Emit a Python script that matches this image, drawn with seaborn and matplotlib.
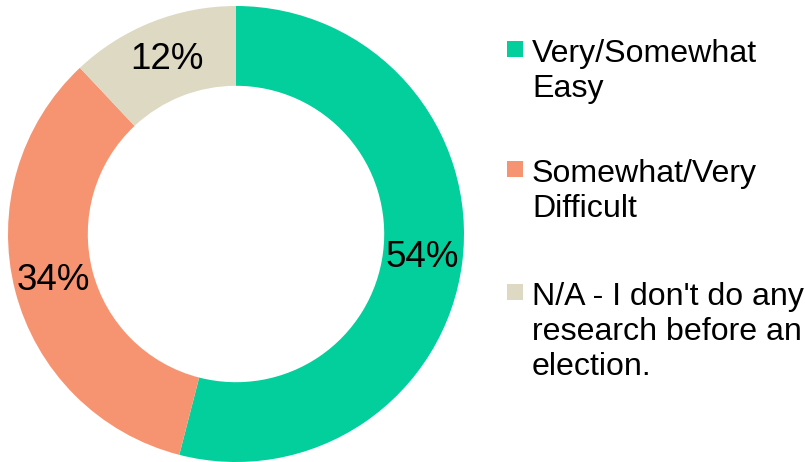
import matplotlib
matplotlib.use("Agg")
import matplotlib.pyplot as plt
from matplotlib.patches import Rectangle
import numpy as np
import seaborn as sns

# Survey responses: how easy is it to research before an election
categories = ["Very/Somewhat\nEasy", "Somewhat/Very\nDifficult",
              "N/A - I don't do any\nresearch before an\nelection."]
shares = [54, 34, 12]
colors = ["#02CF9C", "#F69471", "#DDD9C3"]

sns.set_theme(style="white")
plt.rcParams["font.family"] = ["Liberation Sans", "DejaVu Sans"]

W, H = 805, 462
fig = plt.figure(figsize=(W / 100, H / 100), dpi=100)
fig.patch.set_facecolor("white")

# donut occupies the left part of the figure (pixel centre measured from the top)
cx, cy, r = 236, 234, 228
ax = fig.add_axes([(cx - r) / W, (H - cy - r) / H, 2 * r / W, 2 * r / H])
ring = 0.35
wedges, _ = ax.pie(
    shares, colors=colors, startangle=90, counterclock=False,
    radius=1.0, wedgeprops=dict(width=ring, linewidth=0),
)
ax.set_xlim(-1, 1)
ax.set_ylim(-1, 1)
ax.set_aspect("equal")
ax.axis("off")

# percentage labels at the middle of the ring
mid_r = 1.0 - ring / 2
for w, v in zip(wedges, shares):
    ang = np.deg2rad((w.theta1 + w.theta2) / 2)
    ax.text(mid_r * np.cos(ang), mid_r * np.sin(ang), f"{v}%",
            ha="center", va="center", fontsize=26.5, color="black")

# legend on the right: square swatch beside the first line of each label
legend_x = 507
swatch = 16
first_baselines = [62, 182, 305]
for lab, col, yb in zip(categories, colors, first_baselines):
    fig.add_artist(Rectangle((legend_x / W, (H - yb + 5) / H),
                             swatch / W, swatch / H,
                             transform=fig.transFigure, facecolor=col,
                             edgecolor="none"))
    lines = lab.split("\n")
    for k, line in enumerate(lines):
        fig.text((legend_x + 25) / W, (H - yb - 35 * k) / H, line,
                 ha="left", va="baseline", fontsize=23.1, color="black")

fig.savefig("out.png", dpi=100, facecolor="white")
